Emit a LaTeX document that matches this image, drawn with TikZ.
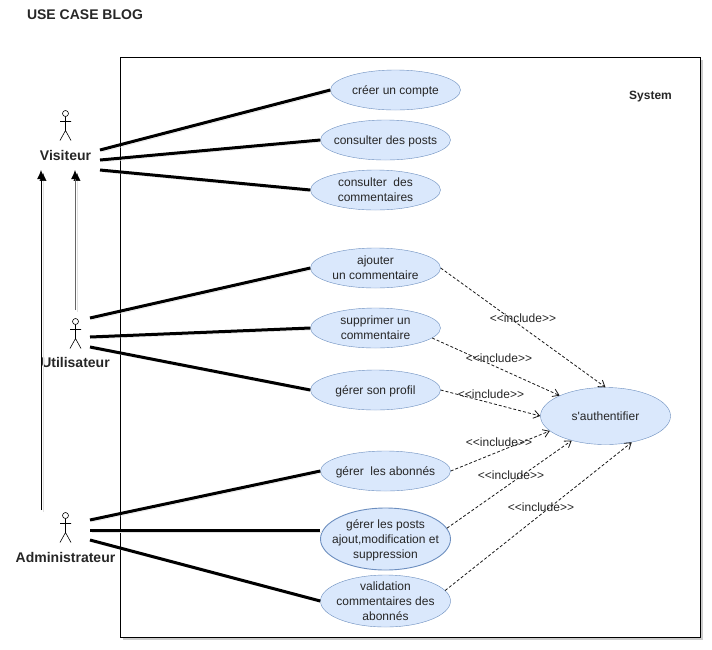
\documentclass[tikz,border=0pt]{standalone}
\usepackage{fontspec}
\setmainfont{Liberation Sans}
\newfontfamily\plainface{Liberation Sans}
\usetikzlibrary{arrows.meta,shapes.geometric,shadows}
\definecolor{casefill}{HTML}{DAE8FC}
\definecolor{caseline}{HTML}{6C8EBF}
\tikzset{
	usecase/.style={ellipse,draw=caseline,fill=casefill,inner xsep=-30pt,inner ysep=-15pt,align=center,
		minimum width=130pt,minimum height=40pt,text=black!85,text depth=0pt,
		font=\fontsize{12}{15}\selectfont},
	actorname/.style={font=\fontsize{14}{16}\selectfont\bfseries,text=black!85},
	assoc/.style={line width=3pt,preaction={draw=black!12,transform canvas={shift={(2pt,-2pt)}}}},
	generalize/.style={line width=0.9pt,-{Latex[length=9pt,width=8pt,color=black]},
		preaction={draw=black!12,transform canvas={shift={(2pt,-2pt)}}}},
	includes/.style={densely dashed,line width=0.8pt,black!90,-{Straight Barb[length=6pt,width=8pt]}},
	includename/.style={font=\fontsize{12}{15}\selectfont,text=black!85},
}
\newcommand{\stickman}[2]{
	\draw[line width=0.6pt] (#1,#2) circle (3);
	\draw[line width=0.6pt] (#1,#2+3) -- (#1,#2+17) (#1-5.5,#2+8) -- (#1+5.5,#2+8)
		(#1-5.5,#2+27) -- (#1,#2+17) -- (#1+5.5,#2+27);
}
\begin{document}
\begin{tikzpicture}[x=1pt,y=-1pt]
	\useasboundingbox (0,0) rectangle (712,649);
	\node[font=\fontsize{14}{16}\selectfont\bfseries,text=black!85] (title) at (85,15) {USE CASE BLOG};
	\draw[fill=white,line width=0.8pt,drop shadow={shadow xshift=2.5pt,shadow yshift=-2.5pt,fill=black!40}]
		(120.5,57.5) rectangle (700.5,637);
	\node[font=\fontsize{12}{15}\selectfont\bfseries,text=black!85] (system) at (650.5,97) {System};

	% actors
	\stickman{65.5}{113.5}
	\stickman{75.5}{321.5}
	\stickman{65.5}{515.5}
	\node[actorname] (visiteur) at (65.5,155) {Visiteur};
	\node[actorname] (utilisateur) at (75.5,362) {Utilisateur};
	\node[actorname] (admin) at (65.5,557) {Administrateur};

	% use cases
	\node[usecase] (creer) at (395.5,90) {créer un compte};
	\node[usecase] (posts) at (385.5,140) {consulter des posts};
	\node[usecase] (comm) at (375.5,190) {consulter\ \ des\\commentaires};
	\node[usecase] (ajouter) at (375.5,268) {ajouter\\un commentaire};
	\node[usecase] (suppr) at (375.5,328) {supprimer un\\commentaire};
	\node[usecase] (profil) at (375.5,390) {gérer son profil};
	\node[usecase] (abonnes) at (385.5,471) {gérer\ \ les abonnés};
	\node[usecase,minimum height=62pt,line width=0.9pt] (gerer) at (385.5,539)
		{gérer les posts\\ajout,modification et\\suppression};
	\node[usecase,minimum height=52pt] (valid) at (385.5,601)
		{validation\\commentaires des\\abonnés};
	\node[usecase,minimum height=57pt] (auth) at (605.5,416) {\plainface s'authentifier};

	% free ends of the lines
	\coordinate (v1) at (100,150);
	\coordinate (v2) at (100,160);
	\coordinate (v3) at (100,170);
	\coordinate (u1) at (90,318);
	\coordinate (u2) at (90,337);
	\coordinate (u3) at (90,347);
	\coordinate (a1) at (90,520);
	\coordinate (a2) at (90,530);
	\coordinate (a3) at (90,540);
	\coordinate (up1) at (41,510);
	\coordinate (up1end) at (41,170);
	\coordinate (up2) at (75,310);
	\coordinate (up2end) at (75,170);
	\coordinate (gererend) at (320,530);

	\draw[assoc] (v1) -- (creer.west);
	\draw[assoc] (v2) -- (posts.west);
	\draw[assoc] (v3) -- (comm.west);
	\draw[assoc] (u1) -- (ajouter.west);
	\draw[assoc] (u2) -- (suppr.west);
	\draw[assoc] (u3) -- (profil.west);
	\draw[assoc] (a1) -- (abonnes.west);
	\draw[assoc] (a2) -- (gererend);
	\draw[assoc] (a3) -- (valid.west);
	\draw[generalize] (up1) -- (up1end);
	\draw[generalize,black!60] (up2) -- (up2end);

	% include links
	\draw[includes] (ajouter.east) -- (auth.north);
	\draw[includes] (suppr.-10) -- (auth.156);
	\draw[includes] (profil.east) -- (auth.west);
	\draw[includes] (abonnes.east) -- (auth.195);
	\draw[includes] (gerer.10) -- (auth.216);
	\draw[includes] (valid.10) -- (auth.315);
	\node[includename] (inc1) at (523,318) {<{}<include>{}>};
	\node[includename] (inc2) at (499,358) {<{}<include>{}>};
	\node[includename] (inc3) at (491,394) {<{}<include>{}>};
	\node[includename] (inc4) at (499,442) {<{}<include>{}>};
	\node[includename] (inc5) at (511,475) {<{}<include>{}>};
	\node[includename] (inc6) at (541,507) {<{}<include>{}>};
\end{tikzpicture}
\end{document}
